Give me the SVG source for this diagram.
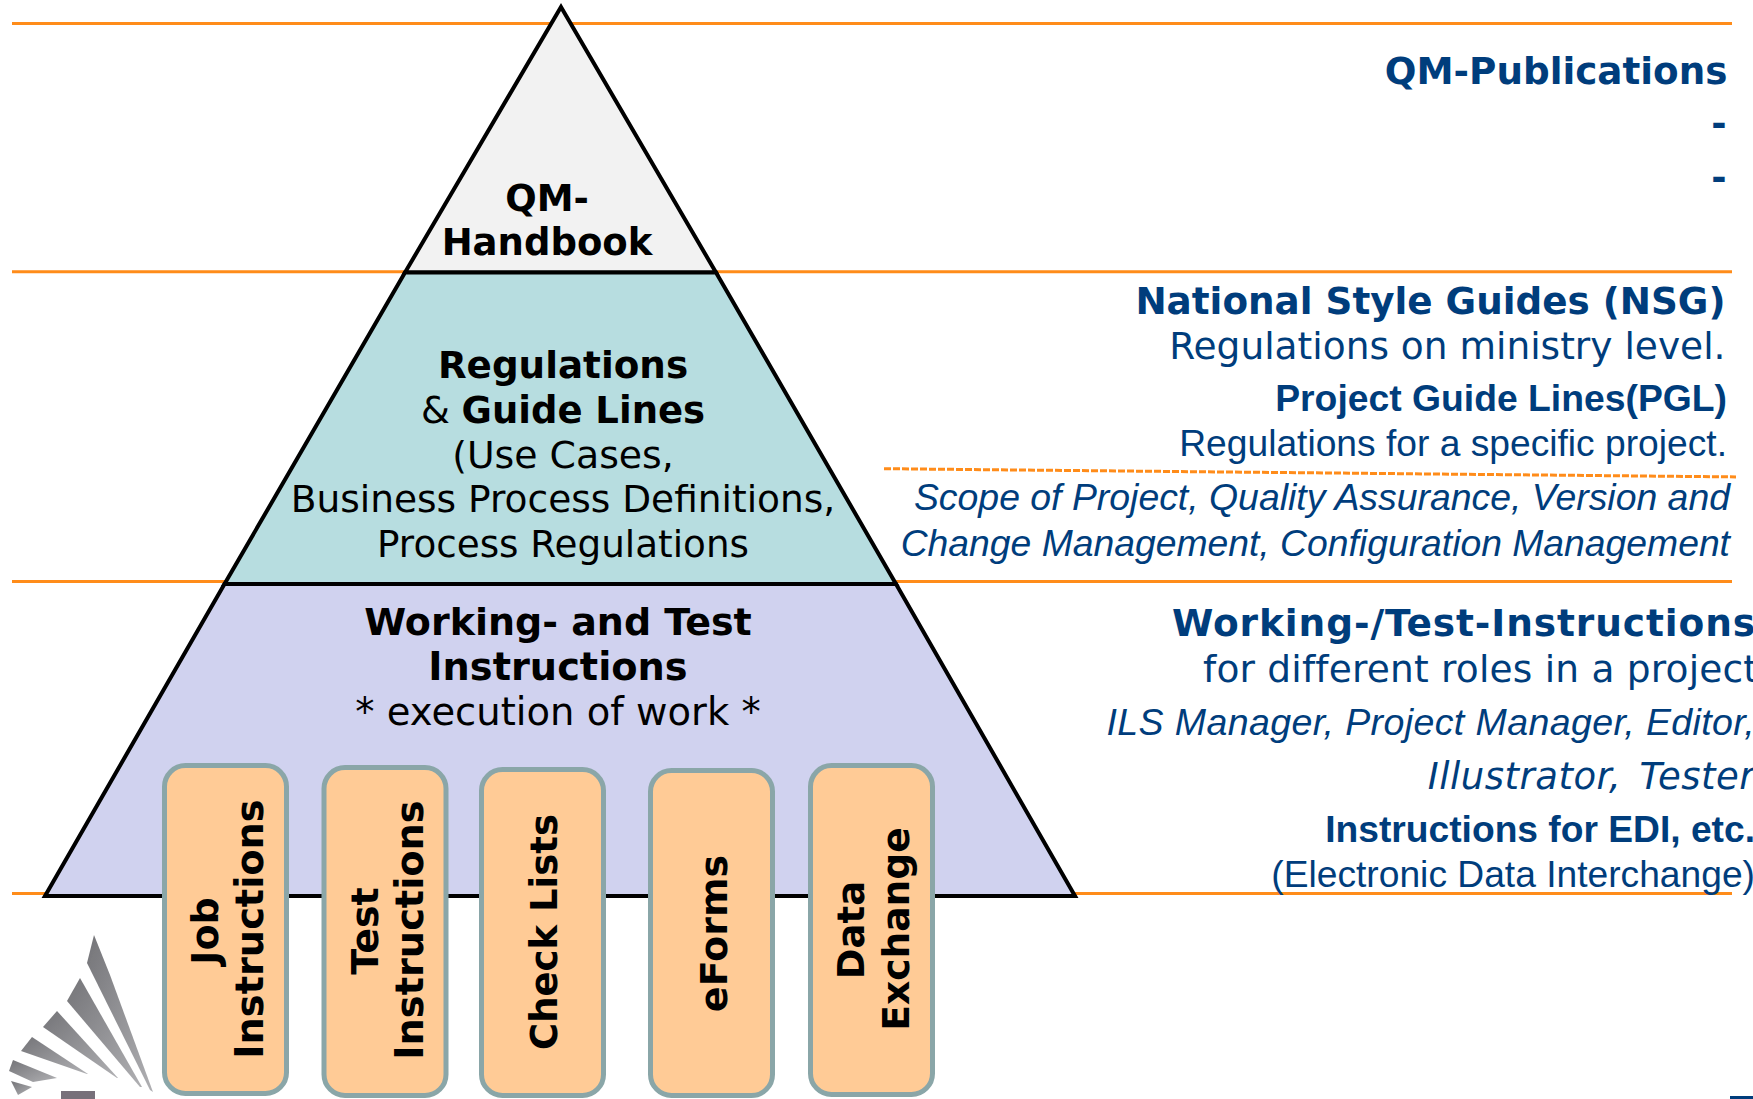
<svg xmlns="http://www.w3.org/2000/svg" width="1753" height="1099" viewBox="0 0 1753 1099">
<style>
.o{stroke:#ff8c1a;stroke-width:3;fill:none}
.d{font-family:"DejaVu Sans",Verdana,sans-serif}
.l{font-family:"Liberation Sans",Arial,sans-serif}
.b{font-weight:bold}
.i{font-style:italic}
.t{font-size:37px;fill:#000;text-anchor:middle}
.n{fill:#003d7c;text-anchor:end}
.r{fill:#ffcb96;stroke:#8aa6a8;stroke-width:5}
.tier{stroke:#000;stroke-width:4;stroke-linejoin:miter}
.g{fill:url(#gr)}
</style>
<defs><linearGradient id="gr" x1="0" y1="0" x2="1" y2="1"><stop offset="0" stop-color="#747478"/><stop offset="1" stop-color="#b0b0b3"/></linearGradient>
<filter id="soft" x="-10%" y="-10%" width="120%" height="120%"><feGaussianBlur stdDeviation="0.6"/></filter></defs>
<rect width="1753" height="1099" fill="#fff"/>
<g id="rules">
<path class="o" d="M12 23.5H1732M12 271.7H1732M12 581.5H1732M12 893.5H1732"/>
<path d="M884 468.7L1736 476.9" stroke="#ff8c1a" stroke-width="3" stroke-dasharray="7 2" fill="none"/>
</g>
<g id="tier-handbook"><path class="tier" fill="#f2f2f2" d="M561 7L716 272.5H405Z"/>
<text class="d b t"><tspan x="547" y="211">QM-</tspan><tspan x="547" y="255">Handbook</tspan></text></g>
<g id="tier-regulations"><path class="tier" fill="#b7dde0" d="M405 272.5H716L896 584H224.5Z"/>
<text class="d t"><tspan x="563" y="378" class="b" font-size="37.3">Regulations</tspan><tspan x="563" y="423">&amp; <tspan class="b">Guide Lines</tspan></tspan><tspan x="563" y="468" font-size="37.8">(Use Cases,</tspan><tspan x="563" y="512" font-size="37.5">Business Process Definitions,</tspan><tspan x="563" y="557" font-size="37.3">Process Regulations</tspan></text></g>
<g id="tier-instructions"><path class="tier" fill="#d0d2ef" d="M224.5 584H896L1075 896H45Z"/>
<text class="d t"><tspan x="558" y="635" class="b" font-size="38">Working- and Test</tspan><tspan x="558" y="680" class="b" font-size="38.3">Instructions</tspan><tspan x="558" y="725" font-size="38.5">* execution of work *</tspan></text></g>
<g id="logo" filter="url(#soft)">
<path class="g" d="M94 935L110 975L153 1092L150 1090L87 963Z"/>
<path class="g" d="M80 978L142 1087L140 1087L67 1001Z"/>
<path class="g" d="M57 1011L118 1078L117 1078L43 1027Z"/>
<path class="g" d="M32 1037L88 1074L87 1074L21 1051Z"/>
<path class="g" d="M13 1060L57 1078L33 1082L9 1071Z"/>
<path class="g" d="M11 1081L32 1087L18 1095Z"/>
<rect x="61" y="1091" width="34" height="8" fill="#77707a"/>
</g>
<g id="box-job"><rect class="r" x="164.5" y="765.5" width="122" height="328" rx="21"/>
<text class="d b t" style="font-size:38px" transform="translate(218 931) rotate(-90)">Job</text><text class="d b t" style="font-size:38.3px" transform="translate(263 929) rotate(-90)">Instructions</text></g>
<g id="box-test"><rect class="r" x="324" y="767.5" width="122" height="328" rx="21"/>
<text class="d b t" style="font-size:38px" transform="translate(378 931) rotate(-90)">Test</text><text class="d b t" style="font-size:38.3px" transform="translate(423 930) rotate(-90)">Instructions</text></g>
<g id="box-check"><rect class="r" x="481.5" y="769.5" width="122" height="326" rx="21"/>
<text class="d b t" transform="translate(557 932) rotate(-90)">Check Lists</text></g>
<g id="box-eforms"><rect class="r" x="650.5" y="770.5" width="122" height="325" rx="21"/>
<text class="d b t" style="font-size:38px" transform="translate(727 933.5) rotate(-90)">eForms</text></g>
<g id="box-data"><rect class="r" x="810.5" y="765.5" width="122" height="329" rx="21"/>
<text class="d b t" transform="translate(864 930) rotate(-90)">Data</text><text class="d b t" style="font-size:37.6px" transform="translate(909 929) rotate(-90)">Exchange</text></g>
<g id="notes-qm">
<text class="d b n" font-size="37.3" x="1727.5" y="84">QM-Publications</text>
<text class="d b n" font-size="37" x="1726.5" y="136">-</text>
<text class="d b n" font-size="37" x="1726.5" y="190">-</text>
</g>
<g id="notes-regulations">
<text class="d b n" font-size="37.3" x="1725.5" y="314">National Style Guides (NSG)</text>
<text class="d n" font-size="37.5" x="1725.5" y="359">Regulations on ministry level.</text>
<text class="l b n" font-size="37.3" x="1727" y="411">Project Guide Lines(PGL)</text>
<text class="l n" font-size="37.2" x="1727" y="456">Regulations for a specific project.</text>
<text class="l i n" font-size="37.4" x="1730" y="510">Scope of Project, Quality Assurance, Version and</text>
<text class="l i n" font-size="37.3" x="1730" y="555.5">Change Management, Configuration Management</text>
</g>
<g id="notes-instructions">
<text class="d b" fill="#003d7c" font-size="37.5" letter-spacing="0.9" x="1172" y="636">Working-/Test-Instructions</text>
<text class="d" fill="#003d7c" font-size="37.5" letter-spacing="0.2" x="1203" y="682">for different roles in a project</text>
<text class="l i n" font-size="37.5" letter-spacing="0.4" x="1755" y="735">ILS Manager, Project Manager, Editor,</text>
<text class="d i n" font-size="37" letter-spacing="0.5" word-spacing="6" x="1755" y="789">Illustrator, Tester</text>
<text class="l b n" font-size="37.2" x="1755" y="842">Instructions for EDI, etc.</text>
<text class="l n" font-size="37.2" x="1755" y="887">(Electronic Data Interchange)</text>
</g>
<rect id="corner" x="1730" y="1096" width="23" height="3" fill="#003d7c"/>
</svg>
